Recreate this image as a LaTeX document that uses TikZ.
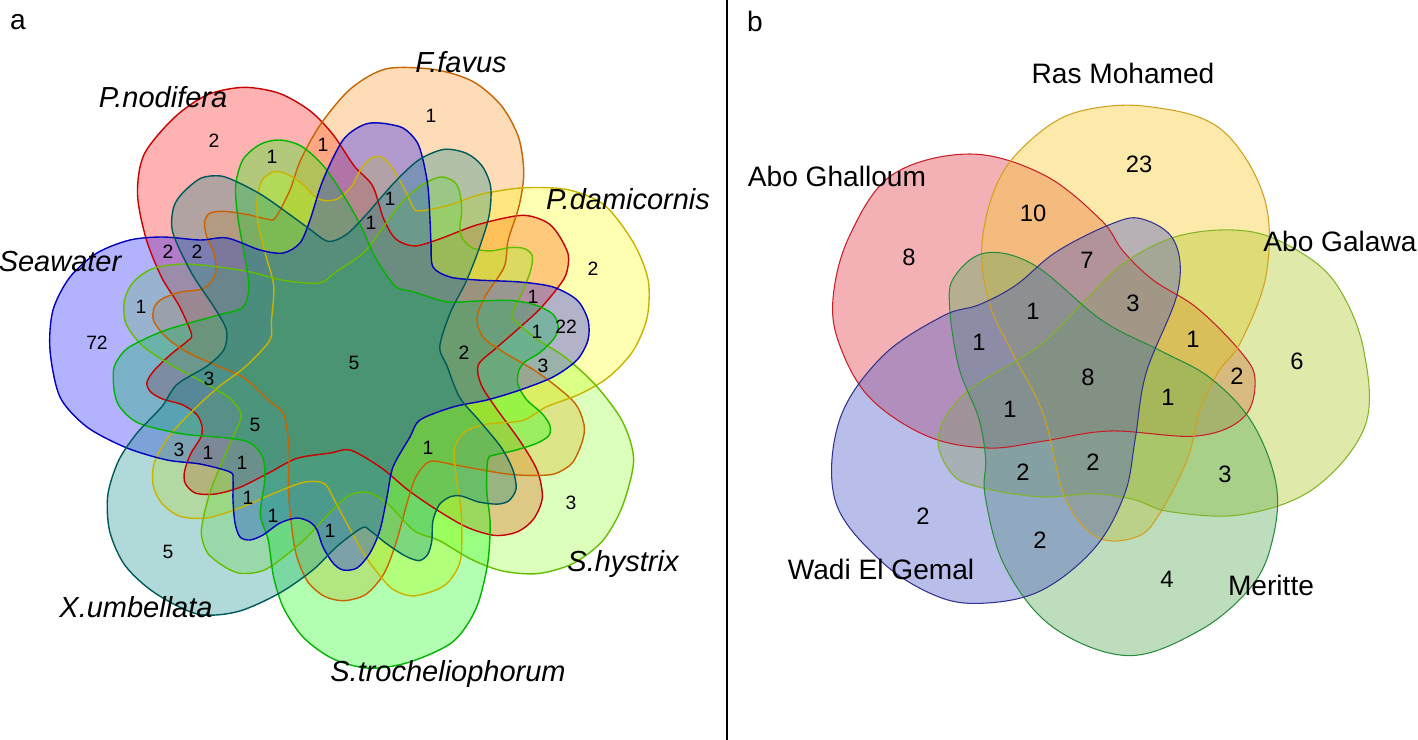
\documentclass[tikz,border=0pt]{standalone}
\usepackage{fontspec}
\setmainfont{Liberation Sans}
\usetikzlibrary{positioning}
% panel a: seven sets
\definecolor{seafill}{RGB}{0,0,255}
\definecolor{sealine}{RGB}{0,0,190}
\definecolor{nodifill}{RGB}{255,0,0}
\definecolor{nodiline}{RGB}{200,0,0}
\definecolor{favfill}{RGB}{255,140,20}
\definecolor{favline}{RGB}{200,100,0}
\definecolor{damifill}{RGB}{255,255,0}
\definecolor{damiline}{RGB}{200,180,0}
\definecolor{hystfill}{RGB}{140,255,30}
\definecolor{hystline}{RGB}{100,190,0}
\definecolor{trochfill}{RGB}{0,255,0}
\definecolor{trochline}{RGB}{0,180,0}
\definecolor{umbfill}{RGB}{0,128,128}
\definecolor{umbline}{RGB}{0,90,90}
% panel b: five sites
\definecolor{ghalfill}{RGB}{225,60,70}
\definecolor{ghalline}{RGB}{200,30,40}
\definecolor{rasfill}{RGB}{250,200,40}
\definecolor{rasline}{RGB}{210,160,30}
\definecolor{galfill}{RGB}{175,200,40}
\definecolor{galline}{RGB}{130,180,40}
\definecolor{merfill}{RGB}{90,170,90}
\definecolor{merline}{RGB}{40,140,60}
\definecolor{wadifill}{RGB}{80,90,200}
\definecolor{wadiline}{RGB}{50,50,140}

\newcommand{\petalshape}{plot[smooth cycle, tension=0.5] coordinates {
  (-304,-13) (-301,-53) (-284,-86) (-257,-110) (-224,-123) (-191,-126)
  (-154,-123) (-127,-125) (-94,-113) (-71,-110) (-54,-120) (-44,-143)
  (-31,-183) (-11,-223) (9,-238) (26,-240) (49,-235) (63,-221) (69,-203)
  (74,-176) (76,-143) (77,-120) (79,-96) (96,-86) (123,-83) (166,-81)
  (199,-76) (223,-63) (234,-43) (234,-23) (223,-3) (199,14) (166,27)
  (133,37) (99,44) (66,57) (56,74) (39,104) (33,134) (26,167) (16,190)
  (3,205) (-11,207) (-21,200) (-31,184) (-37,167) (-44,159) (-57,155)
  (-74,160) (-91,172) (-104,177) (-114,174) (-119,160) (-121,137)
  (-121,117) (-124,109) (-154,101) (-187,97) (-227,85) (-267,64) (-294,34)}}
\newcommand{\siteshape}{plot[smooth cycle, tension=0.6] coordinates {
  (-255,-78) (-239,-140) (-196,-202) (-118,-223) (-44,-202) (13,-157)
  (35,-126) (65,-97) (109,-69) (152,-26) (167,2) (156,40) (109,59)
  (22,54) (-44,64) (-100,71) (-161,59) (-218,21) (-248,-31)}}

\begin{document}
\begin{tikzpicture}[x=0.02cm, y=-0.02cm,
    count/.style={font=\fontsize{11}{13}\selectfont, inner sep=0pt},
    bcount/.style={font=\fontsize{13.5}{16}\selectfont, inner sep=0pt},
    setname/.style={font=\fontsize{16.5}{19}\selectfont\itshape, inner sep=0pt},
    sitename/.style={font=\fontsize{16}{19}\selectfont, inner sep=0pt},
    panel/.style={font=\fontsize{16}{19}\selectfont, inner sep=0pt}
]
\useasboundingbox (0,0) rectangle (1418,740);

% panel a
\foreach \fc/\k in {nodifill/1, favfill/2, damifill/3, hystfill/4, trochfill/5, seafill/0, umbfill/6}
  \fill[\fc, fill opacity=0.3, shift={(354,363)}, rotate=-51.4286*\k] \petalshape;
\foreach \lc/\k in {nodiline/1, favline/2, damiline/3, hystline/4, trochline/5, sealine/0, umbline/6}
  \draw[\lc, line width=0.8pt, shift={(354,363)}, rotate=-51.4286*\k] \petalshape;

\foreach \px/\py/\val [count=\n] in {97/343/72, 141/307/1, 168/252/2, 197/252/2,
    209/379/3, 255/425/5, 354/363/5, 179/450/3, 208/453/1, 242/463/1, 248/498/1,
    273/516/1, 330/531/1, 168/552/5, 214/141/2, 272/157/1, 323/145/1, 431/116/1,
    390/199/1, 371/223/1, 593/269/2, 533/297/1, 566/327/22, 537/332/1, 543/366/3,
    464/353/2, 428/448/1, 571/503/3}
  \node[count] (na\n) at (\px,\py) {\val};

\node[setname] (seawater) at (60,262) {Seawater};
\node[setname] (nodifera) at (163,97) {P.nodifera};
\node[setname] (favus) at (461,62) {F.favus};
\node[setname] (damicornis) at (628,199) {P.damicornis};
\node[setname] (hystrix) at (623,564) {S.hystrix};
\node[setname] (trochelio) at (448,674) {S.trocheliophorum};
\node[setname] (umbellata) at (136,607) {X.umbellata};
\node[panel] (pa) at (18,22) {a};

% divider
\draw[line width=1.6pt] (727,0) -- (727,740);

% panel b
\foreach \fc/\k in {ghalfill/0, rasfill/1, galfill/2, merfill/3, wadifill/4}
  \fill[\fc, fill opacity=0.4, shift={(1088,377)}, rotate=-72*\k] \siteshape;
\foreach \lc/\k in {ghalline/0, rasline/1, galline/2, merline/3, wadiline/4}
  \draw[\lc, line width=0.6pt, shift={(1088,377)}, rotate=-72*\k] \siteshape;

\foreach \px/\py/\val [count=\n] in {1139/164/23, 1033/213/10, 909/257/8, 1087/260/7,
    1033/311/1, 1133/303/3, 1193/339/1, 1297/361/6, 979/342/1, 1237/376/2,
    1088/377/8, 1168/397/1, 1010/409/1, 1023/472/2, 1093/462/2, 1225/474/3,
    923/516/2, 1040/540/2, 1167/579/4}
  \node[bcount] (nb\n) at (\px,\py) {\val};

\node[sitename] (rasmohamed) at (1123,73) {Ras Mohamed};
\node[sitename] (ghalloum) at (837,176) {Abo Ghalloum};
\node[sitename] (galawa) at (1340,241) {Abo Galawa};
\node[sitename] (wadi) at (881,569) {Wadi El Gemal};
\node[sitename] (meritte) at (1271,585) {Meritte};
\node[panel] (pb) at (755,21) {b};
\end{tikzpicture}
\end{document}
